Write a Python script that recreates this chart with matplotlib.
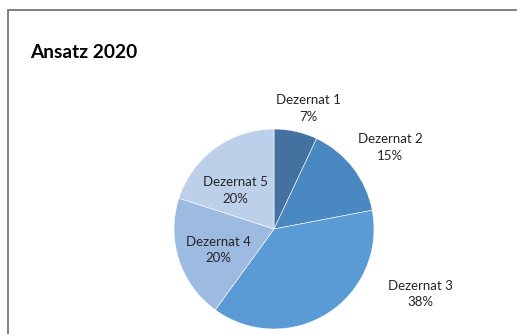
import matplotlib
matplotlib.use("Agg")
import matplotlib.pyplot as plt
from matplotlib.patches import Rectangle

plt.rcParams['font.family'] = ['Lato', 'DejaVu Sans']

# Anteile je Dezernat (Prozent)
dezernate = ["Dezernat 1", "Dezernat 2", "Dezernat 3", "Dezernat 4", "Dezernat 5"]
anteile = [7, 15, 38, 20, 20]
farben = ["#4472a0", "#4a88c2", "#5b9bd5", "#9dbbe1", "#bdd0ea"]

# Beschriftungspositionen relativ zum Kreis (Radius 1)
label_pos = [(0.34, 1.21), (1.16, 0.82), (1.46, -0.65), (-0.56, -0.21), (-0.39, 0.39)]

W, H = 517, 334
fig = plt.figure(figsize=(W / 100, H / 100), dpi=100)

# Rahmen des Diagrammbereichs
fig.patches.append(Rectangle((8 / W, -0.1), 1.2, (H - 10) / H + 0.1,
                             transform=fig.transFigure, fill=False,
                             edgecolor="#767676", linewidth=1.3))

fig.text(30 / W, 1 - 52 / H, "Ansatz 2020", fontsize=13.8, fontweight="bold",
         va="center", ha="left", color="black")

cx, cy, r = 274, 229, 100
ax = fig.add_axes([(cx - r) / W, (H - cy - r) / H, 2 * r / W, 2 * r / H])
ax.pie(anteile, colors=farben, startangle=90, counterclock=False,
       wedgeprops=dict(edgecolor="white", linewidth=0.4))
ax.set_xlim(-1, 1)
ax.set_ylim(-1, 1)
ax.set_aspect("auto")
ax.axis("off")

for name, wert, (lx, ly) in zip(dezernate, anteile, label_pos):
    ax.text(lx, ly, f"{name}\n{wert}%", ha="center", va="center",
            fontsize=9.5, color="#262626", linespacing=1.5, clip_on=False)

fig.savefig("out.png", dpi=100)
